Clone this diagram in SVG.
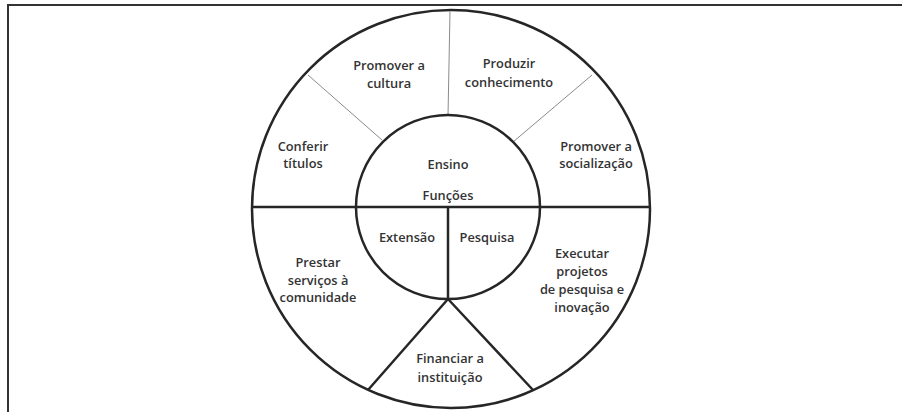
<svg xmlns="http://www.w3.org/2000/svg" width="902" height="412" viewBox="0 0 902 412">
<style>
.thick{fill:none;stroke:#262626;stroke-width:2.5}
.thin{fill:none;stroke:#8a8a8a;stroke-width:1}
text{font-family:"Open Sans","Liberation Sans",sans-serif;font-size:12.8px;font-weight:600;fill:#333;text-anchor:middle}
</style>
<rect width="902" height="412" fill="#fff"/>
<g id="frame">
<path d="M8,412 V5 H902" fill="none" stroke="#333" stroke-width="2"/>
</g>
<g id="outer-circle"><circle cx="451" cy="209" r="199" class="thick"/></g>
<g id="connectors">
<line x1="450" y1="11" x2="448" y2="116" class="thin"/>
<line x1="308" y1="75" x2="382" y2="140" class="thin"/>
<line x1="592" y1="75" x2="513" y2="142" class="thin"/>
<line x1="252" y1="207" x2="650" y2="207" class="thick"/>
<line x1="448" y1="207" x2="448" y2="299" class="thick"/>
<polyline points="368,390 448,299 533,390" class="thick"/>
</g>
<g id="inner-circle"><circle cx="448" cy="207" r="92" class="thick"/></g>
<g id="n-cultura"><text x="389" y="70">Promover a</text><text x="389" y="88">cultura</text></g>
<g id="n-conhecimento"><text x="509" y="68">Produzir</text><text x="509" y="87">conhecimento</text></g>
<g id="n-titulos"><text x="303" y="151">Conferir</text><text x="303" y="168">títulos</text></g>
<g id="n-socializacao"><text x="596" y="151">Promover a</text><text x="596" y="168">socialização</text></g>
<g id="n-ensino"><text x="448" y="169">Ensino</text></g>
<g id="n-funcoes"><text x="448" y="200">Funções</text></g>
<g id="n-extensao"><text x="407" y="242">Extensão</text></g>
<g id="n-pesquisa"><text x="487" y="242">Pesquisa</text></g>
<g id="n-servicos"><text x="318" y="267">Prestar</text><text x="318" y="285">serviços à</text><text x="318" y="302">comunidade</text></g>
<g id="n-projetos"><text x="582" y="258">Executar</text><text x="582" y="276">projetos</text><text x="582" y="294">de pesquisa e</text><text x="582" y="312">inovação</text></g>
<g id="n-financiar"><text x="450" y="363">Financiar a</text><text x="450" y="382">instituição</text></g>
</svg>
